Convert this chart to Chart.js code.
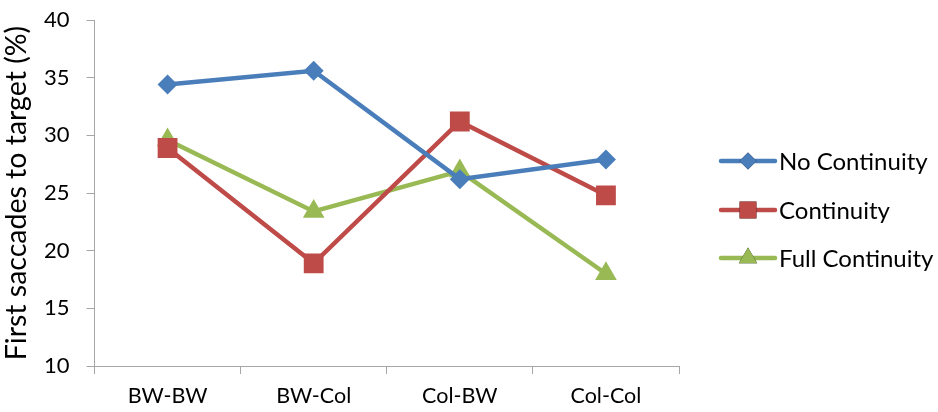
<!DOCTYPE html>
<html>
<head>
<meta charset="utf-8">
<script src="https://cdn.jsdelivr.net/npm/chart.js@4/dist/chart.umd.min.js"></script>
<style>
  html, body { margin: 0; padding: 0; background: #fff; }
  #wrap { width: 938px; height: 412px; }
</style>
</head>
<body>
<div id="wrap"><canvas id="chart" width="938" height="412"></canvas></div>
<script>
const categories = ['BW-BW', 'BW-Col', 'Col-BW', 'Col-Col'];
const noContinuity = [34.4, 35.6, 26.2, 27.9];
const continuity = [28.9, 18.9, 31.2, 24.8];
const fullContinuity = [29.6, 23.4, 26.9, 18.0];
const yTicks = [10, 15, 20, 25, 30, 35, 40];

const FONT = 'Lato, "Open Sans", sans-serif';

// legend on the right: line sample with the marker in its middle
const sideLegend = {
  id: 'sideLegend',
  afterDraw(chart) {
    const ctx = chart.ctx;
    const rows = [161, 210, 258];
    ctx.save();
    chart.data.datasets.forEach((ds, i) => {
      const y = rows[i];
      ctx.strokeStyle = ds.borderColor;
      ctx.lineWidth = 4.5;
      ctx.lineCap = 'round';
      ctx.beginPath();
      ctx.moveTo(721, y);
      ctx.lineTo(775, y);
      ctx.stroke();
      Chart.helpers.drawPoint(ctx, {
        pointStyle: ds.pointStyle,
        radius: ds.pointRadius * 0.85,
        rotation: 0,
        borderWidth: 0
      }, 748, y);
      ctx.fillStyle = ds.borderColor;
      ctx.fill();
      ctx.fillStyle = '#000';
      ctx.font = '24px ' + FONT;
      ctx.textBaseline = 'middle';
      ctx.textAlign = 'left';
      ctx.fillText(ds.label, 779, y + 1);
    });
    ctx.restore();
  }
};

function series(label, data, color, style, r) {
  return {
    label, data,
    borderColor: color,
    backgroundColor: color,
    borderWidth: 4.5,
    pointStyle: style,
    pointRadius: r,
    pointHoverRadius: r,
    pointBorderWidth: 0,
    tension: 0
  };
}

new Chart(document.getElementById('chart'), {
  type: 'line',
  data: {
    labels: categories,
    datasets: [
      series('No Continuity', noContinuity, '#4a7ebb', 'rectRot', 10),
      series('Continuity', continuity, '#be4b48', 'rect', 14),
      series('Full Continuity', fullContinuity, '#98b954', 'triangle', 12.5)
    ]
  },
  options: {
    responsive: false,
    animation: false,
    layout: { padding: { top: 20, right: 259, left: 0, bottom: 0 } },
    plugins: { legend: { display: false }, tooltip: { enabled: false } },
    scales: {
      x: {
        offset: true,
        grid: { offset: true, drawOnChartArea: false, drawTicks: true, tickLength: 8, color: '#a6a6a6' },
        border: { color: '#a6a6a6', width: 1 },
        ticks: { color: '#000', font: { family: FONT, size: 21.5 }, padding: 9, maxRotation: 0 },
        afterFit(scale) { scale.height = 46; scale.paddingLeft = 0; scale.paddingRight = 0; }
      },
      y: {
        min: 10, max: 40,
        afterBuildTicks(scale) { scale.ticks = yTicks.map(v => ({ value: v })); },
        grid: { drawOnChartArea: false, drawTicks: true, tickLength: 8, color: '#a6a6a6' },
        border: { color: '#a6a6a6', width: 1 },
        ticks: { color: '#000', font: { family: FONT, size: 22 }, padding: 17 },
        title: {
          display: true,
          text: 'First saccades to target (%)',
          color: '#000',
          font: { family: FONT, size: 28.5 },
          padding: { top: 0, bottom: 0 }
        },
        afterFit(scale) { scale.width = 94.5; scale.paddingTop = 0; scale.paddingBottom = 0; }
      }
    }
  },
  plugins: [sideLegend]
});
</script>
</body>
</html>
